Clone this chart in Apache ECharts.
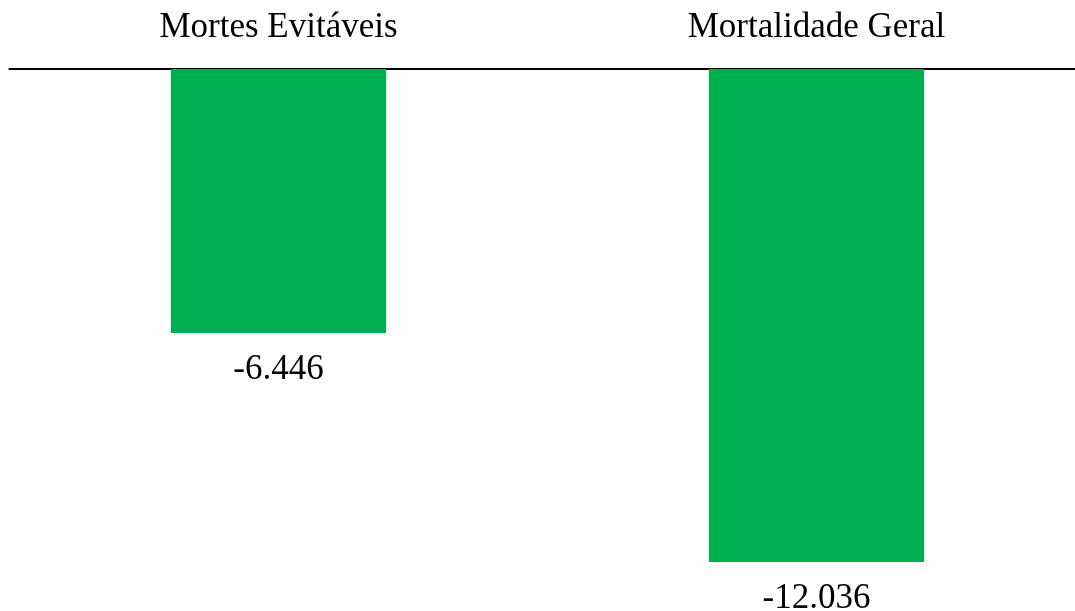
<!DOCTYPE html>
<html>
<head>
<meta charset="utf-8">
<script src="https://cdn.jsdelivr.net/npm/echarts@6/dist/echarts.min.js"></script>
<style>
  html, body { margin: 0; padding: 0; background: #fff; }
  #chart { width: 1075px; height: 611px; }
</style>
</head>
<body>
<div id="chart"></div>
<script>
var categories = ['Mortes Evitáveis', 'Mortalidade Geral'];
var values = [-6446, -12036];

// 12036 -> "12.036" (pt-BR thousands separator)
function fmt(v) {
    var s = String(Math.abs(v)).replace(/\B(?=(\d{3})+(?!\d))/g, '.');
    return (v < 0 ? '-' : '') + s;
}

var chart = echarts.init(document.getElementById('chart'));
var fontFamily = '"Liberation Serif", "DejaVu Serif", serif';

var option = {
    animation: false,
    textStyle: { fontFamily: fontFamily },
    grid: {
        left: 9.5,
        width: 1076,
        top: 69,
        bottom: 9.5,
        containLabel: false,
        outerBoundsMode: 'none'
    },
    xAxis: {
        type: 'category',
        position: 'top',
        data: categories,
        axisLine: { onZero: false, lineStyle: { color: '#000', width: 2 } },
        axisTick: { show: false },
        axisLabel: {
            color: '#000',
            fontSize: 35,
            fontFamily: fontFamily,
            margin: 24
        }
    },
    yAxis: {
        type: 'value',
        min: -13000,
        max: 0,
        show: false,
        splitLine: { show: false }
    },
    series: [
        {
            type: 'bar',
            data: values,
            barWidth: '40%',
            itemStyle: { color: '#00B050' },
            label: {
                show: true,
                position: 'bottom',
                distance: 19,
                color: '#000',
                fontSize: 35,
                fontFamily: fontFamily,
                formatter: function (p) { return fmt(p.value); }
            }
        }
    ]
};
chart.setOption(option);
</script>
</body>
</html>
